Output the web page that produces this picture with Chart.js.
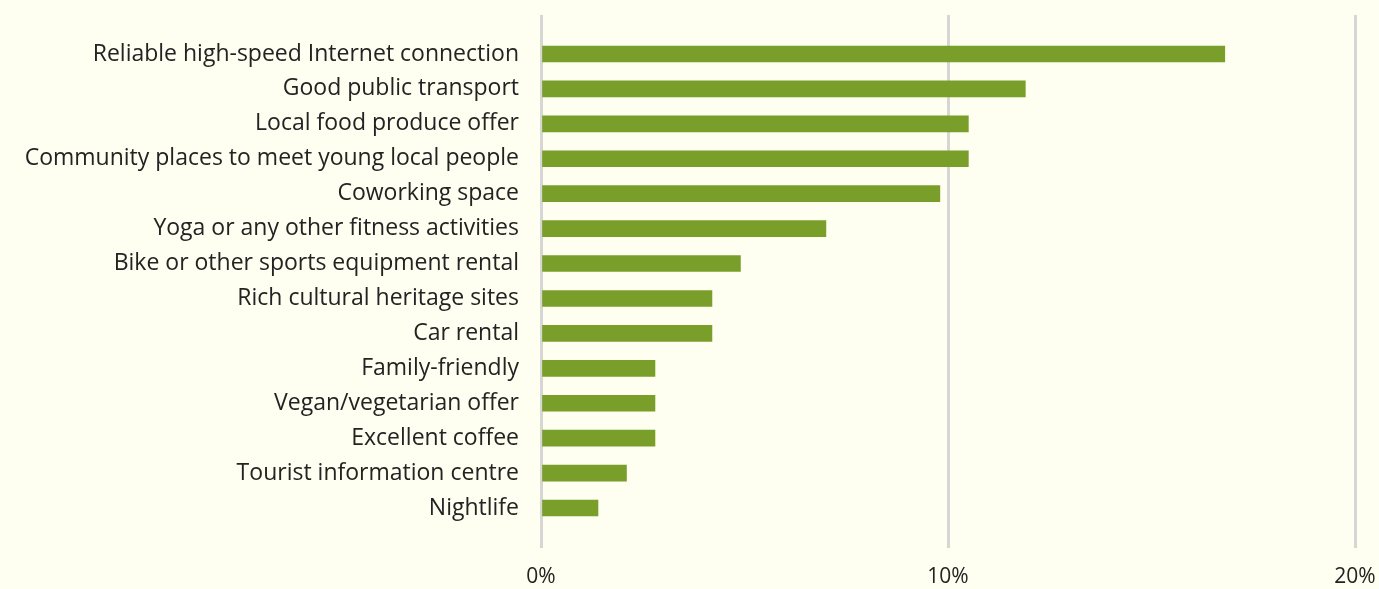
<!DOCTYPE html>
<html>
<head>
<meta charset="utf-8">
<script src="https://cdn.jsdelivr.net/npm/chart.js@4/dist/chart.umd.min.js"></script>
<style>
  html, body { margin: 0; padding: 0; background: #fefef1; overflow: hidden; }
  canvas { display: block; }
</style>
</head>
<body>
<canvas id="chart" width="1379" height="589"></canvas>
<script>
// categories and share of answers (%)
const categories = [
  'Reliable high-speed Internet connection',
  'Good public transport',
  'Local food produce offer',
  'Community places to meet young local people',
  'Coworking space',
  'Yoga or any other fitness activities',
  'Bike or other sports equipment rental',
  'Rich cultural heritage sites',
  'Car rental',
  'Family-friendly',
  'Vegan/vegetarian offer',
  'Excellent coffee',
  'Tourist information centre',
  'Nightlife'
];
const shares = [16.8, 11.9, 10.5, 10.5, 9.8, 7.0, 4.9, 4.2, 4.2, 2.8, 2.8, 2.8, 2.1, 1.4];
const xTicks = [0, 10, 20];

const gridColor = '#d6d6d4';
const textColor = '#232323';
const fontFamily = '"Open Sans", sans-serif';

new Chart(document.getElementById('chart'), {
  type: 'bar',
  data: {
    labels: categories,
    datasets: [{
      data: shares,
      backgroundColor: '#7a9e2a',
      barThickness: 16
    }]
  },
  options: {
    indexAxis: 'y',
    responsive: false,
    animation: false,
    layout: { padding: { top: 0, right: 24, bottom: 0, left: 0 } },
    plugins: { legend: { display: false }, tooltip: { enabled: false } },
    scales: {
      y: {
        grid: { display: false, drawTicks: false },
        border: { display: false },
        ticks: { color: textColor, padding: 22, font: { family: fontFamily, size: 23 } },
        afterFit: (scale) => { scale.width = 541; }
      },
      x: {
        min: 0, max: 20,
        afterBuildTicks: (scale) => { scale.ticks = xTicks.map(v => ({ value: v })); },
        grid: { color: gridColor, lineWidth: 3, tickLength: 22.5, tickColor: gridColor },
        border: { display: false },
        ticks: {
          color: textColor, padding: 16.5,
          font: { family: fontFamily, size: 21 },
          callback: (v) => v + '%'
        },
        // the axis height below the plot and no extra room on the right
        afterFit: (scale) => { scale.height = 63.5; scale.paddingRight = 0; }
      },
      xTop: {
        position: 'top',
        axis: 'x',
        min: 0, max: 20,
        afterBuildTicks: (scale) => { scale.ticks = xTicks.map(v => ({ value: v })); },
        grid: { color: gridColor, lineWidth: 3, tickLength: 21.5, tickColor: gridColor, drawOnChartArea: false },
        border: { display: false },
        ticks: { display: false },
        afterFit: (scale) => { scale.height = 36.5; scale.paddingRight = 0; }
      }
    }
  }
});
</script>
</body>
</html>
